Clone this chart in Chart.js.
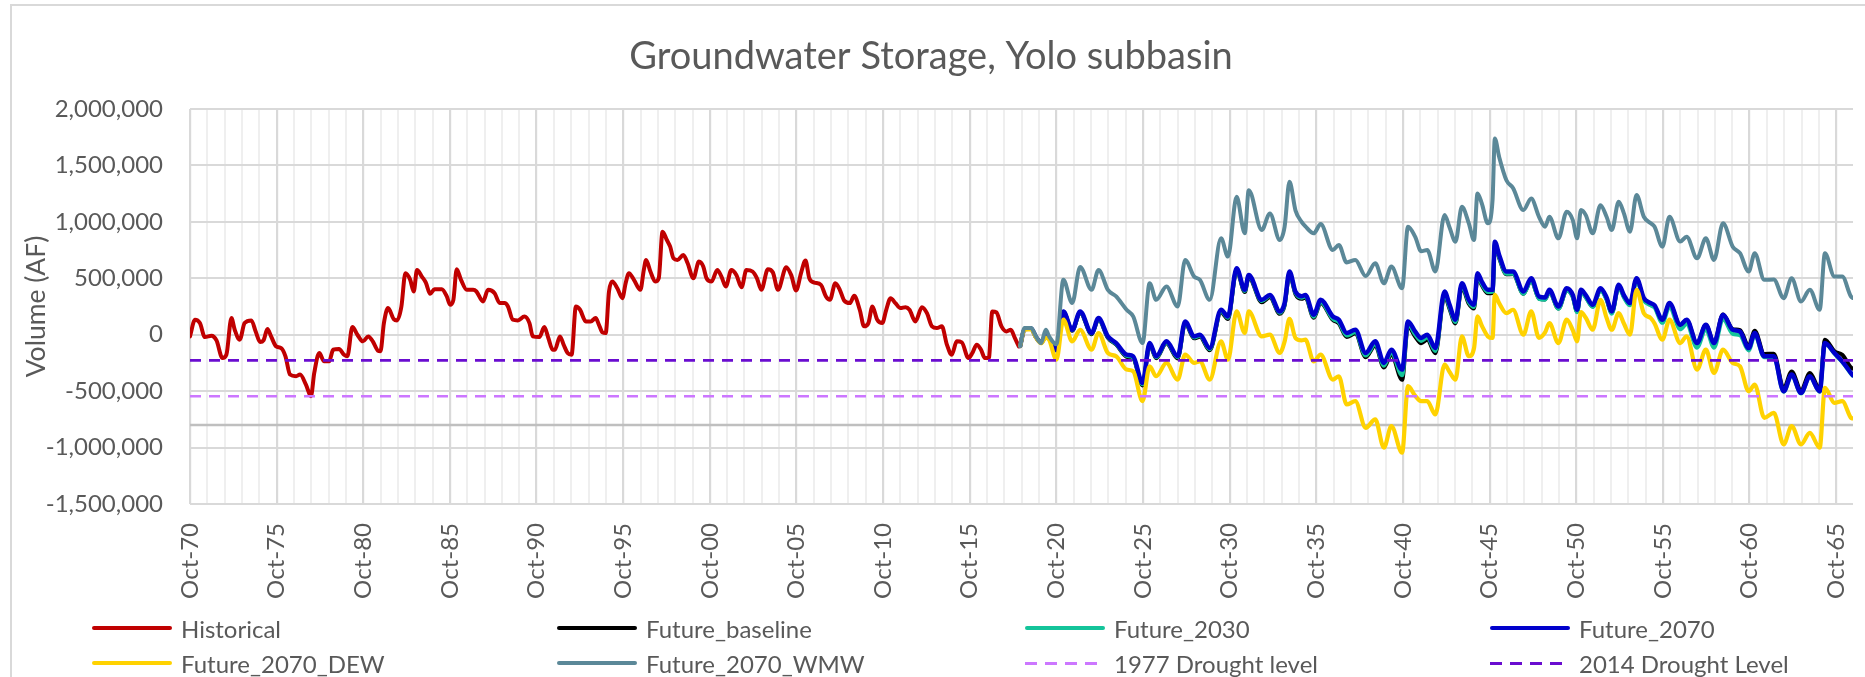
<!DOCTYPE html>
<html><head><meta charset="utf-8">
<script src="https://cdn.jsdelivr.net/npm/chart.js@4.4.1/dist/chart.umd.min.js"></script>
<style>
html,body{margin:0;padding:0;background:#fff;}
#wrap{position:relative;width:1865px;height:677px;overflow:hidden;background:#fff;}
#frame{position:absolute;left:10px;top:4px;width:1900px;height:720px;border-left:2px solid #d9d9d9;border-top:2px solid #d9d9d9;box-sizing:border-box;}
canvas{position:absolute;left:0;top:0;}
#legend{position:absolute;left:0;top:0;width:1865px;height:677px;font-family:Lato,sans-serif;font-size:24px;color:#595959;}
.item{position:absolute;display:flex;align-items:center;height:30px;white-space:nowrap;}
.swatch{width:80px;margin-right:9px;}
</style></head>
<body><div id="wrap"><div id="frame"></div><canvas id="c" width="1865" height="677"></canvas><div id="legend"></div></div>
<script>
// ---- DATA (values in thousand acre-feet, dates in decimal years) ----
const chartTitle = 'Groundwater Storage, Yolo subbasin';
const yAxisTitle = 'Volume (AF)';
const seriesNames = ['Historical','Future_baseline','Future_2030','Future_2070','Future_2070_DEW','Future_2070_WMW','1977 Drought level','2014 Drought Level'];
const xStart = 1970.75, xEnd = 2066.72;
const yMin = -1500000, yMax = 2000000, yStep = 500000;
const axisCrossing = -800000;
const drought1977 = -545000;
const drought2014 = -227000;

const histDates = [1970.75,1971.04,1971.32,1971.61,1971.99,1972.28,1972.62,1972.85,1973.14,1973.33,1973.62,1973.9,1974.29,1974.54,1974.8,1974.99,1975.22,1975.43,1975.72,1976.01,1976.26,1976.52,1976.87,1977.1,1977.44,1977.73,1977.92,1978.21,1978.49,1978.78,1979.01,1979.35,1979.64,1979.83,1980.12,1980.41,1980.73,1981.04,1981.3,1981.59,1981.74,1981.94,1982.18,1982.51,1982.7,1982.95,1983.18,1983.46,1983.66,1983.85,1984.13,1984.36,1984.61,1984.86,1985.28,1985.57,1985.76,1985.95,1986.14,1986.39,1986.72,1987.09,1987.28,1987.66,1987.95,1988.33,1988.62,1988.9,1989.1,1989.38,1989.67,1990.05,1990.34,1990.53,1990.91,1991.2,1991.43,1991.68,1991.81,1992.1,1992.31,1992.54,1992.77,1993.02,1993.26,1993.59,1993.88,1994.16,1994.35,1994.55,1994.74,1994.93,1995.12,1995.41,1995.7,1995.89,1996.08,1996.37,1996.74,1996.94,1997.07,1997.32,1997.6,1997.8,1998.02,1998.27,1998.46,1998.65,1998.88,1999.22,1999.47,1999.8,2000.12,2000.37,2000.56,2000.85,2001.18,2001.42,2001.67,2001.99,2002.28,2002.58,2002.86,2003.21,2003.47,2003.72,2004.1,2004.39,2004.68,2005.16,2005.44,2005.73,2006.02,2006.27,2006.49,2006.78,2007.16,2007.45,2007.68,2007.99,2008.25,2008.5,2008.83,2009.08,2009.4,2009.65,2009.9,2010.13,2010.41,2010.7,2010.93,2011.18,2011.46,2011.75,2012.04,2012.27,2012.61,2012.99,2013.28,2013.57,2013.85,2014.14,2014.43,2014.71,2015.0,2015.29,2015.67,2015.9,2016.15,2016.4,2016.62,2016.85,2017.05,2017.29,2017.58,2017.87,2018.12,2018.35,2018.58];
const historical = [-15,133,103,-21,-9,-50,-206,-177,147,44,-44,103,127,29,-65,-50,50,-15,-103,-118,-191,-353,-368,-353,-442,-545,-339,-162,-236,-236,-133,-127,-177,-191,68,0,-59,-15,-59,-141,-147,103,236,138,127,250,545,486,383,574,515,462,362,403,403,339,265,309,580,486,398,398,383,295,398,368,280,280,250,133,127,162,103,-15,-21,68,-29,-133,-133,-15,-88,-162,-177,250,221,118,118,147,88,21,15,383,471,412,324,456,545,486,398,574,663,560,471,500,913,839,780,677,663,707,633,500,648,604,500,471,574,515,427,574,530,421,574,560,500,398,580,551,398,598,530,392,551,657,500,462,442,339,309,456,398,303,280,345,221,74,103,250,133,103,221,324,280,236,244,221,118,244,191,74,59,74,-88,-177,-59,-68,-206,-162,-88,-133,-206,-206,206,197,74,29,44,-29,-103];

const futureDates = [2018.66,2018.91,2019.29,2019.57,2019.86,2020.14,2020.33,2020.75,2021.15,2021.66,2022.12,2022.78,2023.18,2023.72,2024.2,2024.8,2025.18,2025.72,2026.13,2026.51,2027.1,2027.75,2028.18,2028.7,2029.03,2029.6,2030.25,2030.65,2031.15,2031.62,2031.85,2032.6,2033.07,2033.64,2033.92,2034.2,2034.55,2034.9,2035.12,2035.6,2036.0,2036.7,2037.05,2037.5,2038.0,2038.6,2039.15,2039.65,2040.08,2040.7,2041.04,2041.45,2041.8,2042.15,2042.62,2043.15,2043.44,2043.78,2044.15,2044.55,2044.85,2045.05,2045.3,2045.65,2045.92,2046.05,2046.3,2046.72,2047.1,2047.7,2048.15,2048.6,2048.95,2049.2,2049.72,2050.2,2050.55,2050.8,2051.02,2051.3,2051.7,2052.15,2052.5,2052.8,2053.2,2053.5,2053.85,2054.23,2054.65,2055.05,2055.27,2055.72,2056.13,2056.75,2057.12,2057.72,2058.23,2058.7,2059.22,2059.78,2060.2,2060.7,2061.05,2061.6,2062.15,2062.72,2063.18,2063.72,2064.23,2064.8,2065.1,2065.65,2066.1,2066.6,2066.7];
const futureBaseline = [-100,50,55,-22,-72,-15,-35,-140,200,35,195,5,135,-28,-88,-195,-210,-450,-90,-208,-75,-210,100,-32,-18,-138,200,140,568,378,510,288,332,185,258,538,358,318,330,150,282,132,100,-20,10,-200,-95,-290,-175,-400,75,-15,-75,-45,-165,345,228,100,420,275,232,512,438,368,370,795,680,535,538,362,482,320,312,380,232,395,336,204,382,334,250,398,316,192,430,338,268,490,312,270,250,125,272,82,128,-78,86,-74,180,50,40,-100,35,-170,-168,-475,-325,-490,-340,-480,-44,-147,-177,-290,-300];
const future2030 = [-100,50,55,-20,-70,-12,-32,-136,203,40,200,10,140,-22,-82,-188,-202,-440,-84,-200,-68,-200,108,-25,-10,-128,210,150,578,388,520,298,342,195,268,548,368,328,340,160,290,140,110,-8,22,-185,-82,-275,-158,-360,92,2,-55,-25,-145,360,242,112,435,288,245,525,450,378,380,805,688,540,540,362,480,318,310,378,230,392,333,200,378,330,245,392,310,186,422,330,260,482,304,260,240,105,245,48,95,-115,48,-115,140,8,-5,-140,-5,-200,-198,-505,-360,-520,-372,-505,-80,-168,-242,-345,-362];
const future2070 = [-100,50,55,-20,-70,-10,-29,-133,206,44,206,15,147,-15,-74,-177,-191,-427,-74,-191,-59,-191,118,-15,0,-118,221,162,589,398,530,309,353,206,280,560,380,340,353,177,309,162,133,15,44,-162,-59,-250,-133,-309,118,29,-29,0,-118,383,265,133,456,309,265,545,470,398,398,824,707,560,560,383,501,339,330,398,250,412,353,221,398,350,265,412,330,206,442,350,280,501,324,280,260,133,280,88,133,-74,88,-74,177,44,29,-118,15,-191,-191,-501,-353,-515,-368,-501,-74,-162,-236,-339,-359];
const future2070DEW = [-100,45,50,-25,-75,-25,-45,-221,133,-59,44,-133,15,-162,-191,-309,-324,-589,-280,-368,-250,-398,-177,-250,-236,-398,-59,-221,206,15,206,-15,0,-162,-60,140,-30,-50,-44,-236,-177,-398,-368,-618,-589,-825,-751,-1001,-810,-1045,-456,-540,-589,-589,-707,-265,-330,-398,-15,-191,-120,162,80,-15,-29,353,280,191,221,0,206,-29,20,103,-74,133,40,-59,200,150,44,309,150,44,191,100,0,398,191,147,100,-44,133,-74,-15,-309,-133,-339,-133,-250,-280,-501,-442,-736,-692,-972,-810,-972,-869,-1001,-471,-604,-589,-736,-742];
const future2070WMW = [-100,59,59,-15,-74,44,-15,-85,486,280,600,398,574,398,339,221,162,-74,456,309,427,250,663,515,486,309,854,692,1222,898,1281,928,1075,839,957,1355,1100,1000,960,898,980,751,795,640,663,520,633,456,604,412,957,869,740,751,560,1060,950,824,1134,987,839,1252,1163,987,1193,1738,1576,1369,1300,1104,1207,1045,957,1045,854,1090,1016,854,1104,1060,898,1148,1045,928,1178,1075,913,1237,1045,987,957,780,1045,825,869,677,854,663,987,780,722,560,722,486,490,324,501,295,398,221,722,515,515,339,327];

const colors = ['#C00000','#000000','#14C49A','#0000CC','#FFD200','#5B8898','#CC77FF','#6A0DD0'];
const widths = [4, 4, 4, 4.5, 4.2, 4, 2.6, 2.6];

// ---- build ----
const toPts = (dates, vals) => dates.map((d, i) => ({x: d, y: vals[i] * 1000}));
const flat = v => [{x: xStart, y: v}, {x: xEnd, y: v}];
const seriesData = [
  toPts(histDates, historical),
  toPts(futureDates, futureBaseline),
  toPts(futureDates, future2030),
  toPts(futureDates, future2070),
  toPts(futureDates, future2070DEW),
  toPts(futureDates, future2070WMW),
  flat(drought1977),
  flat(drought2014)
];
const datasets = seriesData.map((data, i) => {
  const dashed = i >= 6;
  return {
    label: seriesNames[i], data,
    borderColor: colors[i], backgroundColor: colors[i],
    borderWidth: widths[i],
    borderDash: dashed ? [11, 8] : [],
    pointRadius: 0, fill: false,
    cubicInterpolationMode: 'monotone',
    borderJoinStyle: 'round', borderCapStyle: dashed ? 'butt' : 'round',
    order: seriesNames.length - i
  };
});

const tickYears = [];
for (let y = 1970; y <= 2065; y++) tickYears.push(y + 0.75);
tickYears.push(xEnd);
const isMajor = v => { const yr = Math.round(v - 0.75); return Math.abs(v - (yr + 0.75)) < 1e-6 && (yr - 1970) % 5 === 0; };

const axisLinePlugin = {
  id: 'axisLine',
  beforeDatasetsDraw(chart) {
    const {ctx, chartArea, scales} = chart;
    const y = scales.y.getPixelForValue(axisCrossing);
    ctx.save();
    ctx.strokeStyle = '#bfbfbf'; ctx.lineWidth = 2.5;
    ctx.beginPath(); ctx.moveTo(chartArea.left, y); ctx.lineTo(chartArea.right, y); ctx.stroke();
    ctx.restore();
  }
};

const font = {family: 'Lato', size: 24};
function build() {
  const chart = new Chart(document.getElementById('c'), {
    type: 'line',
    data: {datasets},
    options: {
      responsive: false, animation: false, devicePixelRatio: 1,
      layout: {padding: {top: 5, left: 0, right: 3, bottom: 0}},
      plugins: {
        legend: {display: false}, tooltip: {enabled: false},
        title: {display: true, text: chartTitle, color: '#595959',
          font: {family: 'Lato', size: 38, weight: 'normal', lineHeight: 1.2},
          padding: {top: 29, bottom: 29.4}}
      },
      scales: {
        x: {
          type: 'linear', min: xStart, max: xEnd,
          afterBuildTicks: s => { s.ticks = tickYears.map(v => ({value: v})); },
          afterFit: s => { s.height = 173; },
          ticks: {
            autoSkip: false, minRotation: 90, maxRotation: 90, padding: 0,
            color: '#595959', font,
            callback: v => {
              if (v === xEnd) return null;
              if (!isMajor(v)) return '';
              const yr = Math.round(v - 0.75);
              return 'Oct-' + String(yr % 100).padStart(2, '0');
            }
          },
          grid: {
            color: c => (c.tick && isMajor(c.tick.value)) ? '#d9d9d9' : '#efefef',
            lineWidth: c => (c.tick && isMajor(c.tick.value)) ? 2.2 : 2,
            drawTicks: true, tickLength: 19, tickColor: 'rgba(0,0,0,0)'
          },
          border: {display: false}
        },
        y: {
          min: yMin, max: yMax,
          afterFit: s => { s.width = 190; },
          ticks: {stepSize: yStep, padding: 27, color: '#595959', font,
            callback: v => Number(v).toLocaleString('en-US')},
          grid: {color: '#d9d9d9', lineWidth: 2, drawTicks: false},
          border: {display: false},
          title: {display: true, text: yAxisTitle, color: '#595959',
            font: {family: 'Lato', size: 26.5, lineHeight: 1.2}, padding: {top: 21, bottom: 0}}
        }
      }
    },
    plugins: [axisLinePlugin]
  });

  // HTML legend built from the datasets (4 columns x 2 rows)
  const colX = [92, 557, 1025, 1490], rowY = [628, 663];
  const leg = document.getElementById('legend');
  chart.data.datasets.forEach((ds, i) => {
    const item = document.createElement('div');
    item.className = 'item';
    item.style.left = colX[i % 4] + 'px';
    item.style.top = (rowY[Math.floor(i / 4)] - 15) + 'px';
    const sw = document.createElement('span');
    sw.className = 'swatch';
    if (ds.borderDash.length) {
      sw.style.height = '3px';
      sw.style.background = `repeating-linear-gradient(90deg, ${ds.borderColor} 0 12px, transparent 12px 20px)`;
    } else {
      sw.style.height = '4px';
      sw.style.borderRadius = '2px';
      sw.style.background = ds.borderColor;
    }
    const tx = document.createElement('span');
    tx.textContent = ds.label;
    item.appendChild(sw); item.appendChild(tx);
    leg.appendChild(item);
  });
}
if (document.fonts && document.fonts.load) {
  Promise.all([document.fonts.load('24px Lato'), document.fonts.load('38px Lato')]).then(build, build);
} else build();
</script>
</body></html>
